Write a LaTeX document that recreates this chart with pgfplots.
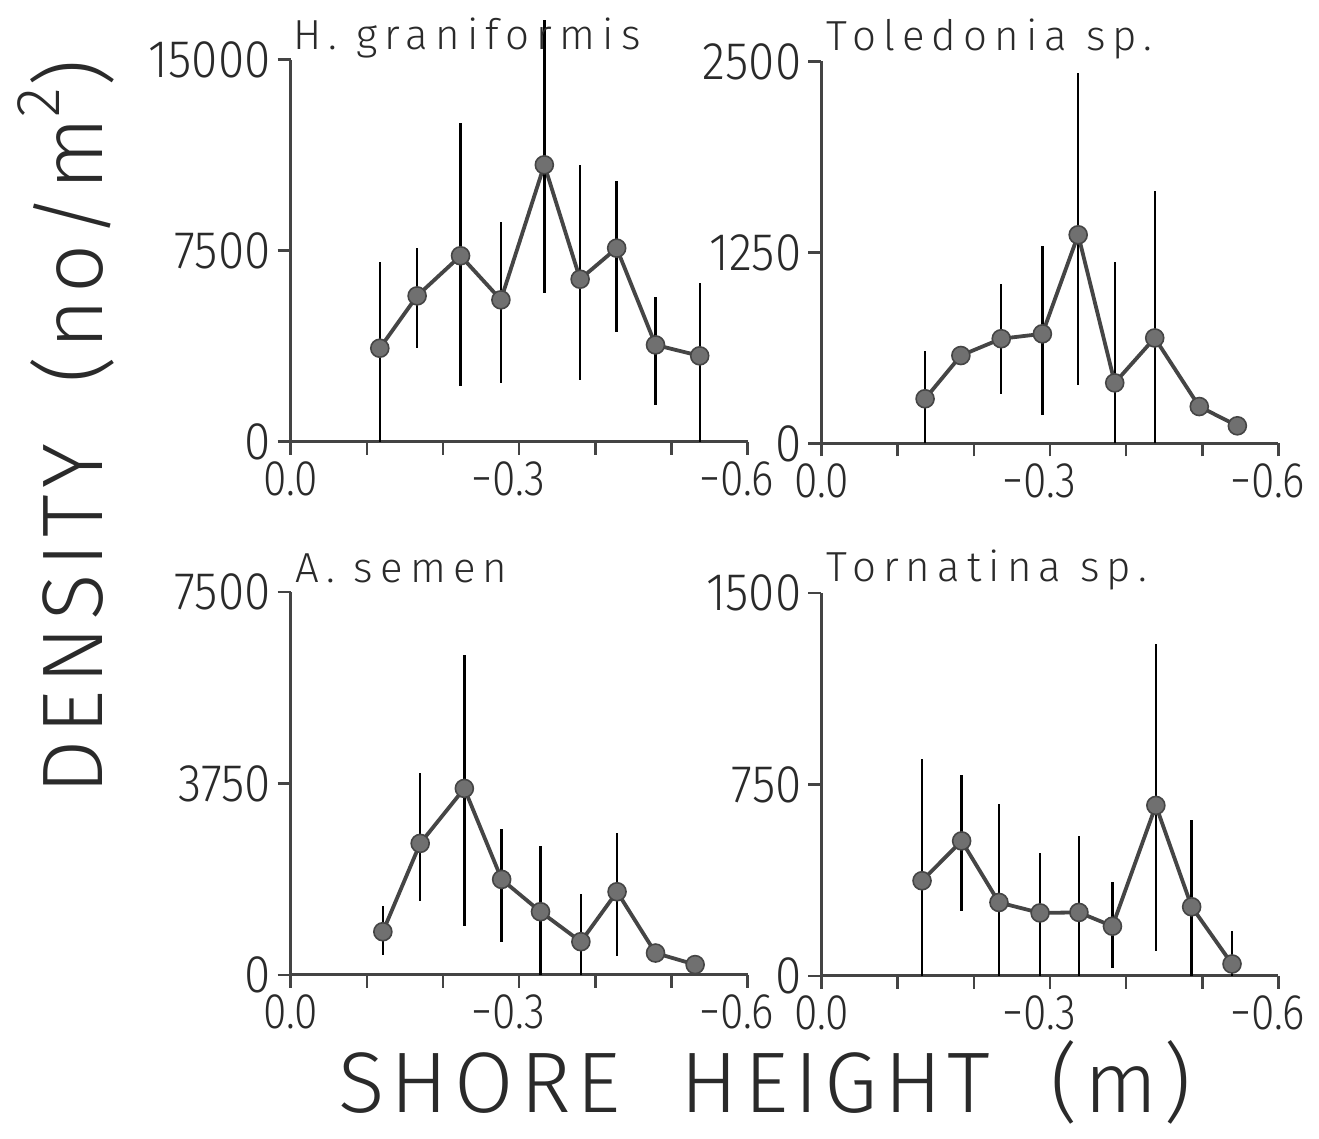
\documentclass[border=0pt]{standalone}
\usepackage{pgfplots}
\pgfplotsset{compat=1.18}
\usepackage{fontspec}
\setmainfont{Fira Sans Light}
\newfontfamily\titlefont[LetterSpace=17]{Fira Sans Light}
\newfontfamily\tickfont[FakeStretch=0.85]{Fira Sans Light}
\newfontfamily\ytickfont[FakeStretch=0.9]{Fira Sans Light}
\newfontfamily\labfont[LetterSpace=7]{Fira Sans Light}
\definecolor{axisgray}{HTML}{444444}
\definecolor{linegray}{HTML}{454545}
\definecolor{markgray}{HTML}{707070}
\definecolor{textgray}{HTML}{2A2A2A}
\pgfplotsset{
  panel/.style={
    scale only axis, width=228.5pt, anchor=south west,
    axis x line*=bottom, axis y line*=left,
    axis line style={line width=1.5pt, color=axisgray, -},
    x dir=reverse, xmin=-0.6, xmax=0,
    xtick={0,-0.1,-0.2,-0.3,-0.4,-0.5,-0.6},
    xticklabels={0.0,,,−0.3\hspace*{11pt},,,−0.6\hspace*{11pt}},
    scaled y ticks=false,
    tick align=outside, major tick length=6.5pt,
    tick style={line width=1.2pt, color=axisgray},
    xticklabel style={font=\tickfont\fontsize{25}{25}\selectfont, text=textgray},
    yticklabel style={font=\ytickfont\fontsize{26.5}{26.5}\selectfont, text=textgray},
    clip=false, ymin=0,
  },
  ser/.style={line width=1.9pt, color=linegray, mark=*, mark size=4.5pt,
    mark options={fill=markgray, draw=linegray, line width=0.8pt},
    error bars/y dir=both, error bars/y explicit, error bars/error mark=none,
    error bars/error bar style={line width=1.2pt, color=black}},
}
\begin{document}
\begin{tikzpicture}
\useasboundingbox (0,0) rectangle (659.5pt,569.5pt);
% top left
\begin{axis}[panel, at={(145.35pt,348.65pt)}, height=191pt,
  ymax=15000, ytick={0,7500,15000}, yticklabels={0,7500,15000}]
\addplot+[ser] coordinates {
(-0.117,3670) += (0,3400) -= (0,3670)
(-0.166,5725) += (0,1875) -= (0,2055)
(-0.223,7300) += (0,5210) -= (0,5110)
(-0.276,5570) += (0,3075) -= (0,3250)
(-0.333,10870) += (0,5700) -= (0,5040)
(-0.380,6380) += (0,4490) -= (0,3960)
(-0.428,7600) += (0,2640) -= (0,3280)
(-0.479,3800) += (0,1890) -= (0,2360)
(-0.537,3370) += (0,2870) -= (0,3370)
};
\end{axis}
% top right
\begin{axis}[panel, at={(410.75pt,347.8pt)}, height=191pt,
  ymax=2500, ytick={0,1250,2500}, yticklabels={0,1250,2500}]
\addplot+[ser] coordinates {
(-0.136,292) += (0,314) -= (0,292)
(-0.183,575) += (0,0) -= (0,0)
(-0.236,685) += (0,359) -= (0,360)
(-0.290,717) += (0,575) -= (0,529)
(-0.337,1365) += (0,1062) -= (0,980)
(-0.385,396) += (0,792) -= (0,396)
(-0.4375,690) += (0,963) -= (0,690)
(-0.496,241) += (0,0) -= (0,0)
(-0.546,115) += (0,0) -= (0,0)
};
\end{axis}
% bottom left
\begin{axis}[panel, at={(145.35pt,82pt)}, height=191.5pt,
  ymax=7500, ytick={0,3750,7500}, yticklabels={0,3750,7500}]
\addplot+[ser] coordinates {
(-0.121,847) += (0,503) -= (0,456)
(-0.170,2577) += (0,1370) -= (0,1123)
(-0.228,3653) += (0,2608) -= (0,2694)
(-0.277,1872) += (0,978) -= (0,1220)
(-0.328,1239) += (0,1285) -= (0,1239)
(-0.381,652) += (0,933) -= (0,652)
(-0.4285,1630) += (0,1142) -= (0,1258)
(-0.479,430) += (0,0) -= (0,0)
(-0.531,203) += (0,0) -= (0,0)
};
\end{axis}
% bottom right
\begin{axis}[panel, at={(410.75pt,81.5pt)}, height=191.5pt,
  ymax=1500, ytick={0,750,1500}, yticklabels={0,750,1500}]
\addplot+[ser] coordinates {
(-0.132,373) += (0,477) -= (0,373)
(-0.184,529) += (0,259) -= (0,275)
(-0.233,288) += (0,384) -= (0,288)
(-0.287,247) += (0,236) -= (0,247)
(-0.338,249) += (0,300) -= (0,249)
(-0.382,195) += (0,172) -= (0,162)
(-0.439,668) += (0,632) -= (0,569)
(-0.486,271) += (0,340) -= (0,271)
(-0.539,47) += (0,128) -= (0,47)
};
\end{axis}
% titles
\begin{scope}[every node/.style={inner sep=0pt, text=textgray, font=\titlefont\fontsize{21}{21}\selectfont}]
\node[anchor=base west] at (146.5pt,544.5pt) {H.\ graniformis};
\node[anchor=base west] at (413pt,544pt) {Toledonia sp.};
\node[anchor=base west] at (147.5pt,278pt) {A.\ semen};
\node[anchor=base west] at (413pt,278.5pt) {Tornatina sp.};
\end{scope}
% axis titles
\node[inner sep=0pt, text=textgray, font=\labfont\fontsize{43}{43}\selectfont, rotate=90, anchor=base] at (51pt,356pt) {DENSITY\ \ (no/m\raisebox{0.5em}{\fontsize{31}{31}\selectfont 2})};
\node[inner sep=0pt, text=textgray, font=\labfont\fontsize{43}{43}\selectfont, anchor=base] at (382.5pt,13pt) {SHORE\ \ HEIGHT\ \ (m)};
\end{tikzpicture}
\end{document}
